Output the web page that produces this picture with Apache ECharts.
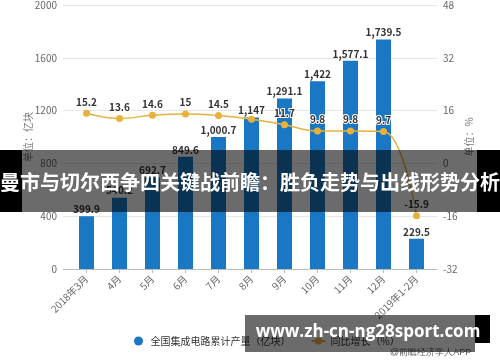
<!DOCTYPE html>
<html><head><meta charset="utf-8">
<script src="https://cdn.jsdelivr.net/npm/echarts@6/dist/echarts.min.js"></script>
<style>html,body{margin:0;padding:0;background:#fff}#c{width:500px;height:362px}</style>
</head><body><div id="c"></div>
<script>
var categories = ['2018年3月','4月','5月','6月','7月','8月','9月','10月','11月','12月','2019年1-2月'];
var outputValues = [399.9, 540.2, 692.7, 849.6, 1000.7, 1147, 1291.1, 1422, 1577.1, 1739.5, 229.5];
var growthValues = [15.2, 13.6, 14.6, 15, 14.5, 13.4, 11.7, 9.8, 9.8, 9.7, -15.9];
var hiddenGrowthLabels = [5];
var leftTicks = {min: 0, max: 2000, interval: 400};
var rightTicks = {min: -32, max: 48, interval: 16};
var seriesNames = ['全国集成电路累计产量（亿块）', '同比增长（%）'];
var titleText = '曼市与切尔西争四关键战前瞻：胜负走势与出线形势分析';
var siteText = 'www.zh-cn-ng28sport.com';
var sourceText = '@前瞻经济学人APP';

function fmt(v){
  var s = String(v).split('.');
  s[0] = s[0].replace(/\B(?=(\d{3})+(?!\d))/g, ',');
  return s.join('.');
}
var FONT = '"Noto Sans CJK SC","Noto Sans",sans-serif';
var chart = echarts.init(document.getElementById('c'), null, {renderer:'canvas'});
var lineData = growthValues.map(function(v,i){
  return hiddenGrowthLabels.indexOf(i) >= 0 ? {value: v, label: {show: false}} : v;
});
chart.setOption({
  animation: false,
  textStyle: {fontFamily: FONT},
  grid: [
    {left: 70, right: 67, top: 5, bottom: 93},
    {left: 63, right: 63, top: 5, bottom: 93}
  ],
  legend: {
    left: 129, top: 331, itemWidth: 14, itemHeight: 9, itemGap: 20,
    textStyle: {fontSize: 10, color: '#333'},
    data: [{name: seriesNames[0], icon: 'circle'}, {name: seriesNames[1]}]
  },
  xAxis: [
    {type: 'category', gridIndex: 0, data: categories,
     axisLine: {show: false},
     axisTick: {show: true, alignWithLabel: true, length: 4, lineStyle: {color: '#bbb'}},
     axisLabel: {rotate: 45, fontSize: 10, color: '#666', margin: 8, interval: 0}},
    {type: 'value', gridIndex: 1, min: 0, max: 1,
     axisLine: {show: true, lineStyle: {color: '#bbb'}},
     axisTick: {show: false}, axisLabel: {show: false}, splitLine: {show: false}}
  ],
  yAxis: [
    {type: 'value', gridIndex: 0, min: leftTicks.min, max: leftTicks.max, interval: leftTicks.interval, show: false},
    {type: 'value', gridIndex: 0, min: rightTicks.min, max: rightTicks.max, interval: rightTicks.interval, show: false},
    {type: 'value', gridIndex: 1, min: leftTicks.min, max: leftTicks.max, interval: leftTicks.interval,
     axisLine: {show: false}, axisTick: {show: false},
     axisLabel: {fontSize: 10, color: '#666', margin: 6, formatter: function(v){ return String(v); }},
     splitLine: {lineStyle: {color: '#e6e6e6'}},
     name: '单位：亿块', nameLocation: 'middle', nameRotate: 90, nameGap: 30, nameMoveOverlap: false,
     nameTextStyle: {fontSize: 10, color: '#777'}},
    {type: 'value', gridIndex: 1, position: 'right', min: rightTicks.min, max: rightTicks.max, interval: rightTicks.interval,
     axisLine: {show: false}, axisTick: {show: false},
     axisLabel: {fontSize: 10, color: '#666', margin: 6},
     splitLine: {show: false},
     name: '单位：%', nameLocation: 'middle', nameRotate: 90, nameGap: 27, nameMoveOverlap: false,
     nameTextStyle: {fontSize: 10, color: '#777'}}
  ],
  series: [
    {name: seriesNames[0], type: 'bar', xAxisIndex: 0, yAxisIndex: 0, data: outputValues,
     barWidth: 15, itemStyle: {color: '#1a77c3'},
     label: {show: true, position: 'top', distance: 2, fontSize: 10, fontWeight: 'bold', color: '#333',
             formatter: function(p){ return fmt(p.value); }}},
    {name: seriesNames[1], type: 'line', xAxisIndex: 0, yAxisIndex: 1, data: lineData,
     smooth: 0.4, symbol: 'circle', symbolSize: 7,
     itemStyle: {color: '#e6b23c'}, lineStyle: {color: '#e6b23c', width: 1.5},
     label: {show: true, position: 'top', distance: 3, fontSize: 10, fontWeight: 'bold', color: '#333',
             textBorderColor: '#fff', textBorderWidth: 2}}
  ],
  graphic: [
    {type: 'text', z: 100, left: 390, top: 348, style: {text: sourceText, fontSize: 9, fill: '#555', font: '9px ' + FONT}},
    {type: 'rect', z: 101, shape: {x: 0, y: 150, width: 500, height: 62}, style: {fill: 'rgba(0,0,0,0.58)'}},
    {type: 'rect', z: 101, shape: {x: 0, y: 150, width: 22, height: 62}, style: {fill: '#000'}},
    {type: 'rect', z: 101, shape: {x: 477, y: 150, width: 23, height: 62}, style: {fill: '#000'}},
    {type: 'text', z: 102, x: 250, y: 182,
     style: {text: titleText, fill: '#fff', font: 'bold 20px ' + FONT, textAlign: 'center', textVerticalAlign: 'middle'}},
    {type: 'rect', z: 101, shape: {x: 245, y: 315, width: 230, height: 37}, style: {fill: 'rgba(0,0,0,0.58)'}},
    {type: 'rect', z: 101, shape: {x: 475, y: 315, width: 15, height: 28}, style: {fill: '#000'}},
    {type: 'text', z: 102, x: 368, y: 332,
     style: {text: siteText, fill: '#fff', font: 'bold 17px "Open Sans","Noto Sans",sans-serif', textAlign: 'center', textVerticalAlign: 'middle'}}
  ]
});
</script></body></html>
